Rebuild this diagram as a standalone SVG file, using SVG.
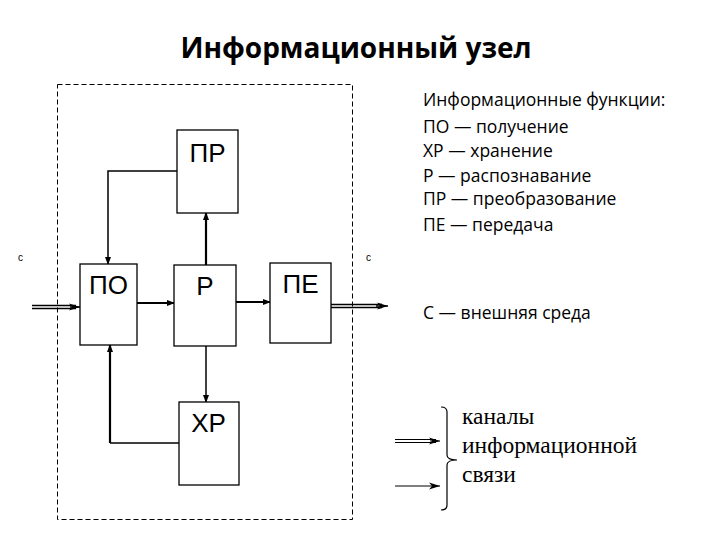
<svg xmlns="http://www.w3.org/2000/svg" width="720" height="540" viewBox="0 0 720 540">
<style>
.box{fill:#fff;stroke:#000;stroke-width:1.3}
.lbl{font-family:"Liberation Sans",Arial,sans-serif;font-size:26px;fill:#000}
.ln{fill:none;stroke:#000;stroke-width:1.5}
.thick{fill:none;stroke:#000;stroke-width:2.2}
.leg{font-family:"Open Sans","Noto Sans",sans-serif;font-size:17.5px;fill:#000}
.ser{font-family:"Liberation Serif","Times New Roman",serif;font-size:23.5px;fill:#000}
.small{font-family:"Liberation Sans",Arial,sans-serif;font-size:10px;fill:#000}
</style>
<defs>
<marker id="ah" markerWidth="8" markerHeight="6" refX="7" refY="3" orient="auto" markerUnits="userSpaceOnUse">
<path d="M0,0 L8,3 L0,6 Z" fill="#000"/>
</marker>
<marker id="oh" markerWidth="12" markerHeight="8" refX="11" refY="4" orient="auto" markerUnits="userSpaceOnUse">
<path d="M0,0.5 L11,4 L0,7.5 L3,4 Z" fill="#000"/>
</marker>
</defs>
<rect width="720" height="540" fill="#fff"/>
<text x="356" y="58" text-anchor="middle" font-family="'Open Sans','Noto Sans',sans-serif" font-weight="bold" font-size="28">Информационный узел</text>
<rect id="boundary" x="57.5" y="84.5" width="295" height="435" fill="none" stroke="#000" stroke-width="1" stroke-dasharray="5,3"/>
<g id="connectors">
<polyline class="ln" points="177,171 108,171 108,264" marker-end="url(#ah)"/>
<line class="thick" x1="206" y1="265" x2="206" y2="213" marker-end="url(#ah)"/>
<line class="thick" x1="137" y1="303" x2="174" y2="303" marker-end="url(#ah)"/>
<line class="thick" x1="236" y1="302" x2="270" y2="302" marker-end="url(#ah)"/>
<line class="ln" x1="206" y1="346" x2="206" y2="402" marker-end="url(#ah)"/>
<polyline class="ln" points="179,443 110,443" />
<line class="thick" x1="110" y1="443" x2="110" y2="345" marker-end="url(#ah)"/>
<line class="ln" x1="32" y1="305.5" x2="76" y2="305.5" stroke-width="1"/>
<line class="ln" x1="32" y1="308.5" x2="76" y2="308.5" stroke-width="1"/>
<line class="ln" x1="70" y1="307" x2="80" y2="307" stroke-width="1" marker-end="url(#oh)"/>
<line class="ln" x1="331" y1="304.5" x2="382" y2="304.5" stroke-width="1"/>
<line class="ln" x1="331" y1="307.5" x2="382" y2="307.5" stroke-width="1"/>
<line class="ln" x1="376" y1="306" x2="388" y2="306" stroke-width="1" marker-end="url(#oh)"/>
</g>
<g id="node-PR"><rect class="box" x="177" y="130" width="61" height="83"/><text class="lbl" x="207.5" y="162" text-anchor="middle">ПР</text></g>
<g id="node-PO"><rect class="box" x="80" y="264" width="57" height="81"/><text class="lbl" x="108.5" y="294" text-anchor="middle">ПО</text></g>
<g id="node-R"><rect class="box" x="174" y="265" width="62" height="81"/><text class="lbl" x="205" y="295" text-anchor="middle">Р</text></g>
<g id="node-PE"><rect class="box" x="270" y="263" width="61" height="80"/><text class="lbl" x="300.5" y="293" text-anchor="middle">ПЕ</text></g>
<g id="node-XR"><rect class="box" x="179" y="402" width="60" height="83"/><text class="lbl" x="208.5" y="432" text-anchor="middle">ХР</text></g>
<text class="small" x="18" y="261">с</text>
<text class="small" x="366" y="261">с</text>
<g id="legend">
<text class="leg" x="423" y="106">Информационные функции:</text>
<text class="leg" x="423" y="133">ПО — получение</text>
<text class="leg" x="423" y="157">ХР — хранение</text>
<text class="leg" x="423" y="182">Р — распознавание</text>
<text class="leg" x="423" y="205">ПР — преобразование</text>
<text class="leg" x="423" y="231">ПЕ — передача</text>
<text class="leg" x="423" y="319">С — внешняя среда</text>
</g>
<g id="channels">
<line x1="395" y1="439.5" x2="436" y2="439.5" stroke="#000" stroke-width="1"/>
<line x1="395" y1="442.5" x2="436" y2="442.5" stroke="#000" stroke-width="1"/>
<line x1="430" y1="441" x2="440" y2="441" stroke="#000" stroke-width="1" marker-end="url(#oh)"/>
<line x1="395" y1="486" x2="440" y2="486" stroke="#000" stroke-width="1" marker-end="url(#oh)"/>
<path d="M441,407 Q447,407 447,412 L447,455 Q447,460 457,460 Q447,460 447,465 L447,505 Q447,510 441,510" fill="none" stroke="#000" stroke-width="1.2"/>
<text class="ser" x="462" y="424">каналы</text>
<text class="ser" x="462" y="453">информационной</text>
<text class="ser" x="462" y="482">связи</text>
</g>
</svg>
